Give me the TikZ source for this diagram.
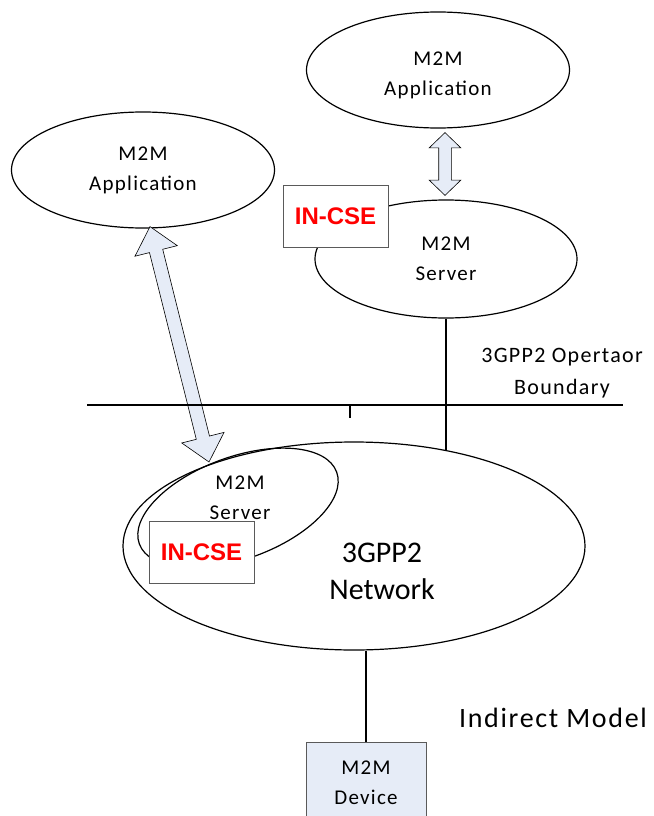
\documentclass[tikz,border=0pt]{standalone}
\usepackage{fontspec}
\setmainfont{Carlito}
\newfontfamily\spacedfont[LetterSpace=6]{Carlito}
\newfontfamily\arialfont{Liberation Sans}
\usetikzlibrary{shapes.geometric,shapes.arrows,calc}
\definecolor{arrowblue}{RGB}{230,236,247}
\definecolor{boxgray}{RGB}{90,90,90}
\newcommand{\fatarrow}[4]{%
  \path let \p1=($(#4)-(#3)$) in
    node[#1,minimum height={veclen(\x1,\y1)},rotate={atan2(\y1,\x1)}] (#2) at ($(#3)!0.5!(#4)$) {};}

\begin{document}
\begin{tikzpicture}[
  x=1pt,y=-1pt,
  line width=1.2pt,
  lbl/.style={font=\spacedfont\fontsize{21}{30}\selectfont,align=center},
  ell/.style 2 args={ellipse,draw,lbl,inner sep=0pt,minimum width=#1,minimum height=#2},
  cse/.style={draw=boxgray,line width=0.8pt,fill=white,minimum width=105,minimum height=62,inner sep=0pt,text=red,font=\arialfont\bfseries\fontsize{24}{26}\selectfont},
  dev/.style={draw=boxgray,line width=0.8pt,fill=arrowblue,minimum width=120,minimum height=82,inner sep=0pt,lbl},
  dbl/.style n args={3}{double arrow,draw,line width=0.6pt,fill=arrowblue,inner sep=0pt,inner ysep=#1,double arrow head extend=#2,double arrow tip angle=#3}
]
\useasboundingbox (0,0) rectangle (653,816);
\node[ell={263}{116}] (appR) at (438,70) {};
\node[lbl] (appRlbl) at (438,75) {M2M\\Application};
\node[ell={263}{116}] (appL) at (143,170) {M2M\\Application};
\node[ell={262}{118}] (srv) at (446,259) {M2M\\Server};
\node[ell={462}{208}] (net) at (354,546) {};
\node[lbl,font=\fontsize{30}{37}\selectfont] (netlbl) at (382,571) {3GPP2\\Network};
\node[ell={210}{102},rotate=20] (srvin) at (238,508) {};
\node[lbl] (srvinlbl) at (240,498) {M2M\\Server};
\node[cse] (cseT) at (335.5,216) {IN-CSE};
\node[cse] (cseB) at (201.5,552.5) {IN-CSE};
\node[dev] (dev) at (366,783) {M2M\\Device};
\node[lbl,font=\spacedfont\fontsize{22}{32}\selectfont] (bnd) at (562,373) {3GPP2 Opertaor\\Boundary};
\node[lbl,font=\spacedfont\fontsize{28}{34}\selectfont] (model) at (553,718) {Indirect Model};
\coordinate (tA) at ($(appR.south)+(7,4)$);
\coordinate (tB) at ($(srv.north)+(-1,-4)$);
\fatarrow{dbl={6}{9.5}{92}}{updown}{tA}{tB}
\coordinate (dA) at ($(appL.south)+(7,-2)$);
\coordinate (dB) at (209,462);
\fatarrow{dbl={6.5}{15}{82}}{diag}{dA}{dB}
\coordinate (bl) at (87,405);
\coordinate (br) at (623,405);
\coordinate (tick) at (350,405);
\draw[line width=1.4pt] (bl) -- (br);
\draw[line width=2pt] (tick) -- ++(0,13);
\draw (srv.south) -- (srv.south |- net.46);
\draw (dev.north |- net.south) -- (dev.north);
\end{tikzpicture}
\end{document}
